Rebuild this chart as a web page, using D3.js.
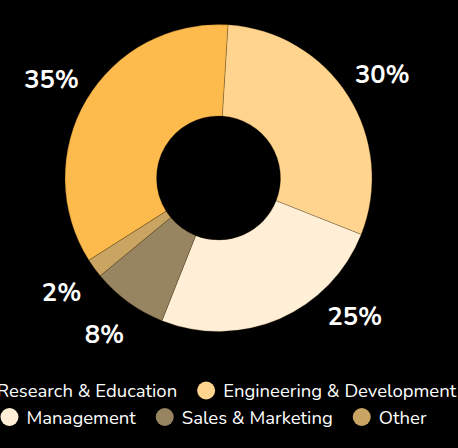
<!DOCTYPE html>
<html>
<head>
<meta charset="utf-8">
<script src="https://cdn.jsdelivr.net/npm/d3@7/dist/d3.min.js"></script>
<style>
  html, body { margin: 0; padding: 0; background: #000; }
  svg { display: block; }
</style>
</head>
<body>
<svg id="chart" width="458" height="448"></svg>
<script>
// ---- data ----
const categories = ["Research & Education", "Engineering & Development", "Management", "Sales & Marketing", "Other"];
const values = [35, 30, 25, 8, 2];
const colors = ["#FEBB4D", "#FFD48F", "#FFEFD6", "#978461", "#C9A462"];
const legendRows = [[0, 1], [2, 3, 4]];

// ---- layout ----
const W = 458, H = 448;
const cx = 218.5, cy = 178;
const outerR = 153.5, innerR = 62;
const labelR = 194;
const labelMaxDy = 138;
const legendTop = 353;
const fontFamily = "'Nunito', 'Open Sans', 'Noto Sans', sans-serif";

const svg = d3.select("#chart");
svg.append("rect").attr("width", W).attr("height", H).attr("fill", "#000");

const total = d3.sum(values);
const startOffset = -2 * Math.PI * (values[0] - 1) / total; // rotation of first slice

const pie = d3.pie().sort(null).value(d => d)
  .startAngle(startOffset).endAngle(startOffset + 2 * Math.PI);
const arcs = pie(values);
const arc = d3.arc().innerRadius(innerR).outerRadius(outerR);

const g = svg.append("g").attr("transform", `translate(${cx},${cy})`);
g.selectAll("path.slice").data(arcs).enter().append("path")
  .attr("class", "slice")
  .attr("d", arc)
  .attr("fill", (d, i) => colors[i])
  .attr("stroke", "rgba(60,40,0,0.45)")
  .attr("stroke-width", 0.6);

// labels
g.selectAll("text.lbl").data(arcs).enter().append("text")
  .attr("class", "lbl")
  .each(function (d) {
    const a = (d.startAngle + d.endAngle) / 2;
    let x = labelR * Math.sin(a);
    let y = -labelR * Math.cos(a);
    // labels that would run into the legend are pulled up along the label circle
    if (cy + y + 12 > legendTop) {
      y = labelMaxDy;
      x = Math.sign(x) * Math.sqrt(labelR * labelR - y * y);
    }
    d3.select(this).attr("x", x).attr("y", y);
  })
  .attr("text-anchor", "middle")
  .attr("dominant-baseline", "central")
  .attr("fill", "#fff")
  .attr("font-family", fontFamily)
  .attr("font-weight", "bold")
  .attr("font-size", 25.5)
  .text(d => Math.round(d.data / total * 100) + "%");

// legend
const legendCx = cx - 5;
const rowBaselines = [397, 423.5];
const markerR = 9, markerGap = 8, itemGap = 20;
const legend = svg.append("g");
legendRows.forEach((row, ri) => {
  const rowG = legend.append("g");
  let x = 0;
  row.forEach(i => {
    const item = rowG.append("g").attr("transform", `translate(${x},0)`);
    item.append("circle")
      .attr("cx", markerR).attr("cy", rowBaselines[ri] - 6.5).attr("r", markerR)
      .attr("fill", colors[i]);
    const t = item.append("text")
      .attr("x", markerR * 2 + markerGap).attr("y", rowBaselines[ri])
      .attr("fill", "#fff")
      .attr("font-family", fontFamily)
      .attr("font-size", 18.5)
      .text(categories[i]);
    x += markerR * 2 + markerGap + t.node().getComputedTextLength() + itemGap;
  });
  const rowW = x - itemGap;
  rowG.attr("transform", `translate(${legendCx - rowW / 2},0)`);
});
</script>
</body>
</html>
